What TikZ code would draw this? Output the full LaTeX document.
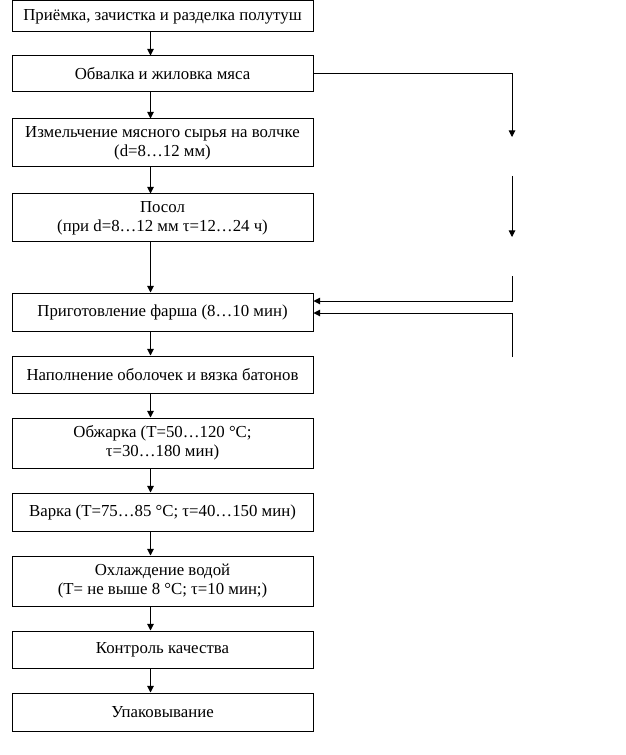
\documentclass[tikz,border=0pt]{standalone}
\usepackage{fontspec}
\setmainfont{Liberation Serif}
\usetikzlibrary{arrows.meta}
\tikzset{
  stage/.style={draw, line width=.75pt, minimum width=225.75pt, minimum height=#1*.75pt,
    inner sep=0pt, align=center, font=\fontsize{12.6}{14.3}\selectfont},
  flow/.style={line width=.75pt, -{Triangle[length=5pt,width=5pt]}}
}
\begin{document}
\begin{tikzpicture}[x=.75pt,y=-.75pt]
  \useasboundingbox (0,0) rectangle (625,755);
  \coordinate (axis) at (150.5,0);
  \node[stage=31] (s1) at (162.5,16.5) {Приёмка, зачистка и разделка полутуш};
  \node[stage=36] (s2) at (162.5,74) {Обвалка и жиловка мяса};
  \node[stage=48] (s3) at (162.5,143) {Измельчение мясного сырья на волчке\\(d=8…12 мм)};
  \node[stage=48] (s4) at (162.5,218) {Посол\\(при d=8…12 мм τ=12…24 ч)};
  \node[stage=38] (s5) at (162.5,312) {Приготовление фарша (8…10 мин)};
  \node[stage=37] (s6) at (162.5,374.5) {Наполнение оболочек и вязка батонов};
  \node[stage=50] (s7) at (162.5,443) {Обжарка (T=50…120 °С;\\τ=30…180 мин)};
  \node[stage=38] (s8) at (162.5,512) {Варка (T=75…85 °С; τ=40…150 мин)};
  \node[stage=50] (s9) at (162.5,581) {Охлаждение водой\\(T= не выше 8 °С; τ=10 мин;)};
  \node[stage=37] (s10) at (162.5,649.5) {Контроль качества};
  \node[stage=38] (s11) at (162.5,712) {Упаковывание};
  \foreach \a/\b in {s1/s2,s2/s3,s3/s4,s4/s5,s5/s6,s6/s7,s7/s8,s8/s9,s9/s10,s10/s11}
    \draw[flow] (\a.south -| axis) -- (\b.north -| axis);
  % side branch
  \coordinate (r1) at (512,137);
  \coordinate (r2) at (512,176);
  \coordinate (r3) at (512,237);
  \coordinate (r4) at (512,276);
  \coordinate (r5) at (512,357);
  \draw[flow] (s2.east) -| (r1);
  \draw[flow] (r2) -- (r3);
  \draw[flow] (r4) |- ([yshift=8.25pt]s5.east);
  \draw[flow] (r5) |- ([yshift=-.75pt]s5.east);
\end{tikzpicture}
\end{document}
